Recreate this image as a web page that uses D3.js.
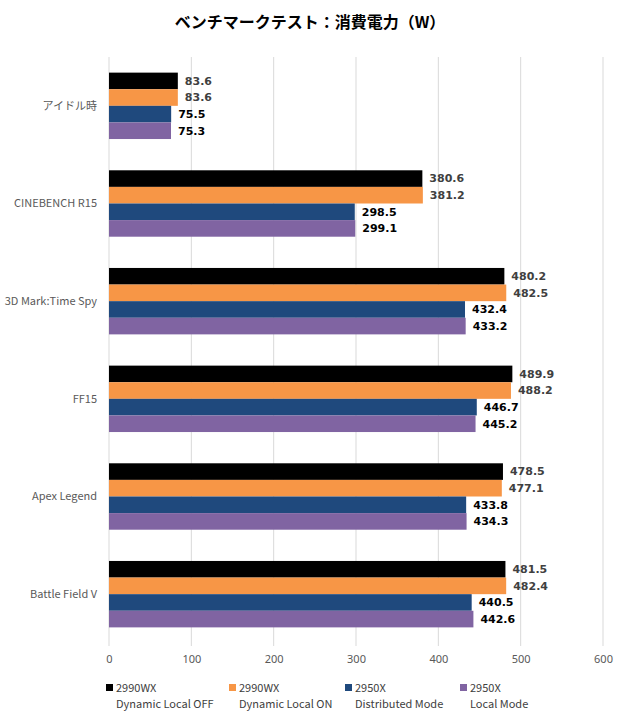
<!DOCTYPE html>
<html>
<head>
<meta charset="utf-8">
<script src="https://cdn.jsdelivr.net/npm/d3@7"></script>
<style>
body { margin: 0; background: #fff; }
text { font-family: "Noto Sans CJK JP", "Noto Sans", sans-serif; }
</style>
</head>
<body>
<svg id="chart" width="620" height="720"></svg>
<script>
const categories = ["アイドル時", "CINEBENCH R15", "3D Mark:Time Spy", "FF15", "Apex Legend", "Battle Field V"];
const seriesNames = ["2990WX|Dynamic Local OFF", "2990WX|Dynamic Local ON", "2950X|Distributed Mode", "2950X|Local Mode"];
const offValues = [83.6, 380.6, 480.2, 489.9, 478.5, 481.5];
const onValues = [83.6, 381.2, 482.5, 488.2, 477.1, 482.4];
const distValues = [75.5, 298.5, 432.4, 446.7, 433.8, 440.5];
const localValues = [75.3, 299.1, 433.2, 445.2, 434.3, 442.6];
const xTicks = [0, 100, 200, 300, 400, 500, 600];

const colors = ["#000000", "#F79646", "#1F497D", "#8064A2"];
const labelColors = ["#404040", "#404040", "#000000", "#000000"];
const allSeries = [offValues, onValues, distValues, localValues];

const svg = d3.select("#chart");

const x = d3.scaleLinear().domain([0, 600]).range([109, 603]);
const y = d3.scaleBand().domain(categories).range([57, 643]).paddingInner(0.32).paddingOuter(0.16);
const ySub = d3.scaleBand().domain(d3.range(4)).range([0, y.bandwidth()]);

// title
svg.append("text")
    .attr("x", 310).attr("y", 28)
    .attr("text-anchor", "middle")
    .attr("font-size", 16).attr("font-weight", "bold")
    .attr("fill", "#000")
    .text("ベンチマークテスト：消費電力（W）");

// gridlines
svg.append("g").selectAll("line").data(xTicks).enter().append("line")
    .attr("x1", d => x(d)).attr("x2", d => x(d))
    .attr("y1", 57).attr("y2", 646)
    .attr("stroke", "#d9d9d9").attr("stroke-width", 1);

// x axis labels
const xAxis = svg.append("g").attr("transform", "translate(0,646)")
    .call(d3.axisBottom(x).tickValues(xTicks).tickSize(0).tickPadding(9));
xAxis.select(".domain").remove();
xAxis.selectAll("text").attr("font-size", 11).attr("fill", "#595959")
    .style("font-family", "'Noto Sans', sans-serif");

// category labels
svg.append("g").selectAll("text").data(categories).enter().append("text")
    .attr("x", 97)
    .attr("y", d => y(d) + y.bandwidth() / 2)
    .attr("dy", "0.35em")
    .attr("text-anchor", "end")
    .attr("font-size", 11).attr("fill", "#595959")
    .text(d => d);

// bars
allSeries.forEach((vals, si) => {
    const g = svg.append("g").attr("class", "series-" + si);
    g.selectAll("rect").data(vals).enter().append("rect")
        .attr("x", x(0))
        .attr("y", (d, i) => y(categories[i]) + ySub(si))
        .attr("width", d => x(d) - x(0))
        .attr("height", ySub.bandwidth())
        .attr("fill", colors[si]);
    g.selectAll("text").data(vals).enter().append("text")
        .attr("x", d => x(d) + 7)
        .attr("y", (d, i) => y(categories[i]) + ySub(si) + ySub.bandwidth() / 2)
        .attr("dy", "0.35em")
        .attr("font-size", 11).attr("font-weight", "bold")
        .attr("fill", labelColors[si])
        .style("font-family", "Verdana, 'DejaVu Sans', sans-serif")
        .text(d => d.toFixed(1));
});

// legend
const legendX = [106, 229, 345, 460];
const legend = svg.append("g").selectAll("g").data(seriesNames).enter().append("g")
    .attr("transform", (d, i) => `translate(${legendX[i]},0)`);
legend.append("rect")
    .attr("x", 0).attr("y", 684).attr("width", 7).attr("height", 7)
    .attr("fill", (d, i) => colors[i]);
legend.append("text")
    .attr("x", 10).attr("y", 692)
    .attr("font-size", 11).attr("fill", "#404040")
    .text(d => d.split("|")[0]);
legend.append("text")
    .attr("x", 10).attr("y", 708)
    .attr("font-size", 11).attr("fill", "#404040")
    .text(d => d.split("|")[1]);
</script>
</body>
</html>
